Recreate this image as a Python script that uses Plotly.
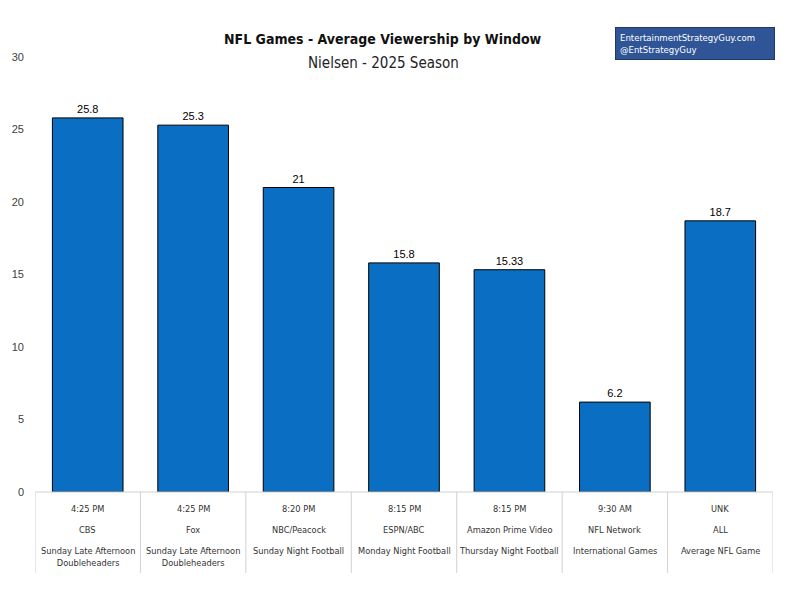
import plotly.graph_objects as go

# Data
times = ["4:25 PM", "4:25 PM", "8:20 PM", "8:15 PM", "8:15 PM", "9:30 AM", "UNK"]
networks = ["CBS", "Fox", "NBC/Peacock", "ESPN/ABC", "Amazon Prime Video", "NFL Network", "ALL"]
windows = ["Sunday Late Afternoon<br>Doubleheaders", "Sunday Late Afternoon<br>Doubleheaders",
           "Sunday Night Football", "Monday Night Football", "Thursday Night Football",
           "International Games", "Average NFL Game"]
viewers = [25.8, 25.3, 21, 15.8, 15.33, 6.2, 18.7]
value_labels = ["25.8", "25.3", "21", "15.8", "15.33", "6.2", "18.7"]

cond_font = "DejaVu Sans Condensed, Liberation Sans Narrow, sans-serif"
plain_font = "Liberation Sans, Arial, sans-serif"

fig = go.Figure()
fig.add_trace(go.Bar(
    x=networks,
    y=viewers,
    text=value_labels,
    textposition="outside",
    textfont=dict(family=plain_font, size=11, color="#000000"),
    marker=dict(color="#0A6FC2", line=dict(color="#000000", width=1)),
    width=0.67,
    cliponaxis=False,
))

# category table under the axis (three rows)
annotations = []
for i, net in enumerate(networks):
    for txt, shift, anchor in [(times[i], -16, "middle"), (net, -37, "middle"), (windows[i], -51, "top")]:
        annotations.append(dict(x=net, xref="x", y=0, yref="paper", yshift=shift, text=txt,
                                showarrow=False, yanchor=anchor,
                                font=dict(family=cond_font, size=9.2, color="#333333")))

# title, subtitle and credit box
annotations += [
    dict(x=0.5, xanchor="center", y=1, yanchor="top", xref="paper", yref="paper",
         text="<b>NFL Games - Average Viewership by Window</b>", showarrow=False,
         yshift=28, xshift=-21, font=dict(family=cond_font, size=14, color="#111111")),
    dict(x=0.5, xanchor="center", y=1, yanchor="top", xref="paper", yref="paper",
         text="Nielsen - 2025 Season", showarrow=False,
         yshift=5, xshift=-21, font=dict(family=cond_font, size=15, color="#222222")),
    dict(x=1, xanchor="right", y=1, yanchor="bottom", xref="paper", yref="paper",
         text="EntertainmentStrategyGuy.com<br>@EntStrategyGuy", showarrow=False, align="left",
         yshift=-3, xshift=2, width=150,
         bgcolor="#2F5597", bordercolor="#1F3864", borderwidth=1, borderpad=4,
         font=dict(family=cond_font, size=9.5, color="#FFFFFF")),
]

# divider lines for the category table
shapes = []
for k in range(len(networks) + 1):
    shapes.append(dict(type="line", xref="x", yref="paper", x0=k - 0.5, x1=k - 0.5, y0=0, y1=-0.186,
                       line=dict(color="#D0D0D0", width=1)))
shapes.append(dict(type="line", xref="paper", yref="paper", x0=0, x1=1, y0=0, y1=0,
                   line=dict(color="#D0D0D0", width=1)))

# page body has an 8px margin, so the figure is sized and placed to compensate
fig.update_layout(
    width=783,
    height=592,
    margin=dict(l=27, r=18, t=49, b=108),
    paper_bgcolor="white",
    plot_bgcolor="white",
    showlegend=False,
    annotations=annotations,
    shapes=shapes,
    xaxis=dict(showticklabels=False, showgrid=False, showline=False, zeroline=False,
               range=[-0.5, len(networks) - 0.5], automargin=False),
    yaxis=dict(range=[0, 30], dtick=5, showgrid=False, zeroline=False, showline=False,
               ticks="", ticklabelstandoff=10, automargin=False,
               tickfont=dict(family=plain_font, size=11, color="#404040")),
)

fig.write_html("out.html")
